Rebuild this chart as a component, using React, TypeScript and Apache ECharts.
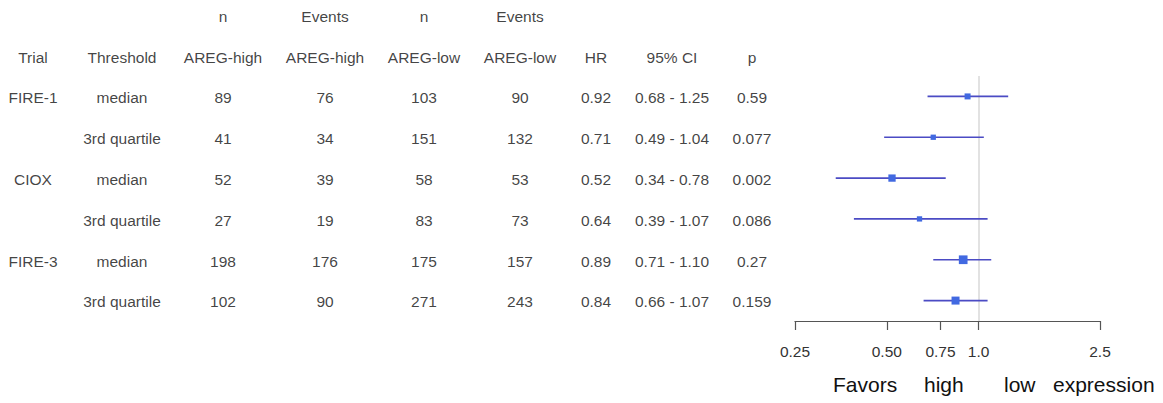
import React, { useEffect, useRef } from "react";
import * as echarts from "echarts";

const trials = ["FIRE-1", "", "CIOX", "", "FIRE-3", ""];
const thresholds = ["median", "3rd quartile", "median", "3rd quartile", "median", "3rd quartile"];
const nHigh = [89, 41, 52, 27, 198, 102];
const eventsHigh = [76, 34, 39, 19, 176, 90];
const nLow = [103, 151, 58, 83, 175, 271];
const eventsLow = [90, 132, 53, 73, 157, 243];
const hr = [0.92, 0.71, 0.52, 0.64, 0.89, 0.84];
const ciLow = [0.68, 0.49, 0.34, 0.39, 0.71, 0.66];
const ciHigh = [1.25, 1.04, 0.78, 1.07, 1.1, 1.07];
const pValues = ["0.59", "0.077", "0.002", "0.086", "0.27", "0.159"];
const boxWeight = [6, 5.3, 7.3, 5.3, 8.7, 8];
const tickValues = [0.25, 0.5, 0.75, 1, 2.5];
const tickLabels = ["0.25", "0.50", "0.75", "1.0", "2.5"];
const headerTop = ["", "", "n", "Events", "n", "Events", "", "", ""];
const headerBottom = ["Trial", "Threshold", "AREG-high", "AREG-high", "AREG-low", "AREG-low", "HR", "95% CI", "p"];
const footerWords = ["Favors", "high", "low", "expression"];

// layout constants (not data)
const COL_X = [33, 122, 223, 325, 424, 520, 596, 672, 752];
const FOOT_X = [833, 924, 1004, 1053];
const FONT = "'Liberation Sans', Arial, sans-serif";

export default function App() {
  const ref = useRef<HTMLDivElement>(null);
  useEffect(() => {
    if (!ref.current) return;
    const chart = echarts.init(ref.current, null, { renderer: "svg" });

    const columns: string[][] = [
      trials,
      thresholds,
      nHigh.map(String),
      eventsHigh.map(String),
      nLow.map(String),
      eventsLow.map(String),
      hr.map((v) => v.toFixed(2)),
      ciLow.map((v, i) => `${v.toFixed(2)} - ${ciHigh[i].toFixed(2)}`),
      pValues,
    ];
    const tableData: any[] = [];
    columns.forEach((col, c) => {
      if (headerTop[c]) tableData.push([COL_X[c], -2, headerTop[c]]);
      tableData.push([COL_X[c], -1, headerBottom[c]]);
      col.forEach((t, r) => {
        if (t) tableData.push([COL_X[c], r, t]);
      });
    });

    const option: any = {
      animation: false,
      grid: [
        { left: 795, right: 63, top: 76, height: 245 },
        { left: 0, right: 0, top: 0, height: 321 },
      ],
      xAxis: [
        {
          type: "log",
          gridIndex: 0,
          position: "bottom",
          min: 0.25,
          max: 2.5,
          axisLine: { show: true, onZero: false, lineStyle: { color: "#555", width: 1.2 } },
          axisTick: {
            show: true,
            inside: false,
            length: 9,
            customValues: tickValues,
            lineStyle: { color: "#555", width: 1.2 },
          },
          minorTick: { show: false },
          splitLine: { show: false },
          axisLabel: {
            customValues: tickValues,
            margin: 22,
            color: "#333",
            fontSize: 15.5,
            fontFamily: FONT,
            formatter: (v: number) => {
              let best = 0;
              tickValues.forEach((t, i) => {
                if (Math.abs(t - v) < Math.abs(tickValues[best] - v)) best = i;
              });
              return tickLabels[best];
            },
          },
        },
        { type: "value", gridIndex: 1, min: 0, max: 1163, show: false },
      ],
      yAxis: [
        { type: "value", gridIndex: 0, min: -0.5, max: 5.5, inverse: true, show: false },
        { type: "value", gridIndex: 1, min: -2.4, max: 5.47, inverse: true, show: false },
      ],
      graphic: footerWords.map((w, i) => ({
        type: "text",
        left: FOOT_X[i],
        top: 374,
        style: { text: w, fontSize: 21, fontFamily: FONT, fill: "#111" },
      })),
      series: [
        {
          type: "custom",
          xAxisIndex: 0,
          yAxisIndex: 0,
          encode: { x: [0, 1], y: 2 },
          data: ciLow.map((lo, i) => [lo, ciHigh[i], i]),
          renderItem: (params: any, api: any) => {
            const a = api.coord([api.value(0), api.value(2)]);
            const b = api.coord([api.value(1), api.value(2)]);
            return {
              type: "line",
              shape: { x1: a[0], y1: a[1], x2: b[0], y2: b[1] },
              style: { stroke: "#4b4bc4", lineWidth: 1.6 },
            };
          },
          markLine: {
            silent: true,
            symbol: "none",
            label: { show: false },
            lineStyle: { color: "#e2e2e2", width: 2, type: "solid" },
            data: [{ xAxis: 1 }],
            z: 1,
          },
          z: 3,
        },
        {
          type: "scatter",
          xAxisIndex: 0,
          yAxisIndex: 0,
          symbol: "rect",
          data: hr.map((v, i) => [v, i]),
          symbolSize: (val: any, p: any) => boxWeight[p.dataIndex],
          itemStyle: { color: "#4169e1", opacity: 1 },
          z: 4,
          silent: true,
        },
        {
          type: "scatter",
          xAxisIndex: 1,
          yAxisIndex: 1,
          symbolSize: 0,
          silent: true,
          data: tableData,
          label: {
            show: true,
            position: "inside",
            formatter: (p: any) => p.value[2],
            color: "#111",
            fontSize: 15.5,
            fontFamily: FONT,
          },
        },
      ],
    };
    chart.setOption(option);
    return () => chart.dispose();
  }, []);
  return (
    <div
      ref={ref}
      style={{ position: "fixed", left: 0, top: 0, width: 1163, height: 403, background: "#fff" }}
    />
  );
}
